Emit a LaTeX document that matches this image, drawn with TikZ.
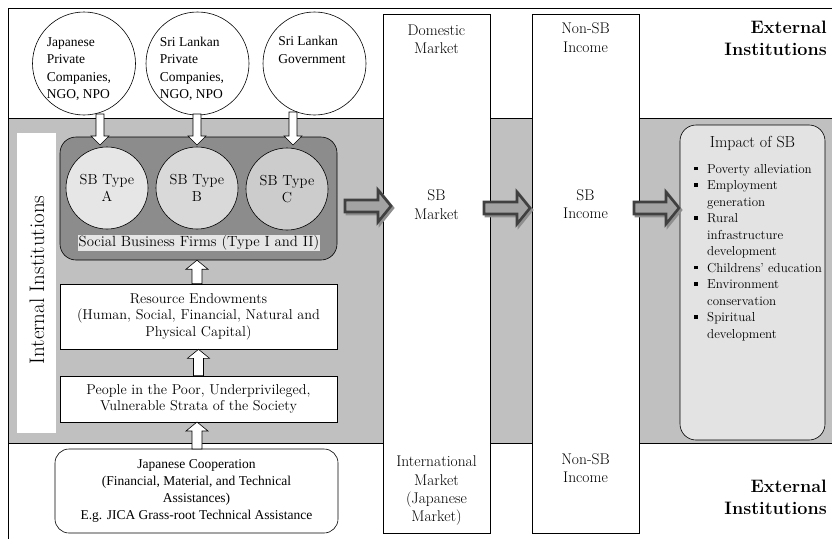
\documentclass[tikz,border=0pt]{standalone}
\usepackage{fontspec}
\newfontfamily\tnr{Liberation Serif}
\usetikzlibrary{calc}
\definecolor{band}{HTML}{C0C0C0}
\definecolor{firmfill}{HTML}{8C8C8C}
\definecolor{cA}{HTML}{E6E6E6}
\definecolor{cB}{HTML}{D9D9D9}
\definecolor{cC}{HTML}{CCCCCC}
\definecolor{impfill}{HTML}{E3E3E3}
\definecolor{arrfill}{HTML}{A3A3A3}
\definecolor{arrline}{HTML}{404040}
\definecolor{shadowc}{HTML}{8E8E8E}
\newcommand\fsz[2]{\fontsize{#1}{#2}\selectfont}
\newcommand\bul{\makebox[13pt][l]{\rule[3pt]{3.6pt}{3.6pt}}}
\newcommand\ind{\hspace*{13pt}}
\tikzset{
  topcirc/.style={circle,draw,line width=0.6pt,minimum size=103pt,inner sep=0pt,fill=white},
  sbcirc/.style={circle,draw,line width=0.6pt,minimum size=82pt,inner sep=0pt,font=\fsz{14.5}{17},align=center},
  colbox/.style={draw,line width=0.6pt,fill=white,minimum width=107pt,minimum height=519pt,inner sep=0pt},
  whitebox/.style={draw,line width=0.6pt,fill=white,minimum width=277pt,inner sep=0pt,font=\fsz{14.3}{16.5},align=center},
  coltext/.style={font=\fsz{15.5}{18.3},align=center,inner sep=0pt},
  exttext/.style={font=\bfseries\fsz{18}{22},align=right,anchor=north east,inner sep=0pt},
  fatstyle/.style={fill=arrfill,draw=arrline,line width=2.6pt,line join=miter},
  fatshadow/.style={fill=shadowc,draw=shadowc,line width=2.6pt},
  blockarr/.style={fill=white,draw=black,line width=0.6pt},
}
% horizontal fat arrow from #1 to tip #2
\newcommand\fatarr[2]{%
  \draw[fatshadow] ($(#1)+(2,2)+(0,-6)$) -- ($(#2)+(2,2)+(-13,-6)$) -- ($(#2)+(2,2)+(-13,-16)$) -- ($(#2)+(2,2)$) -- ($(#2)+(2,2)+(-13,16)$) -- ($(#2)+(2,2)+(-13,6)$) -- ($(#1)+(2,2)+(0,6)$) -- cycle;
  \draw[fatstyle] ($(#1)+(0,-6)$) -- ($(#2)+(-13,-6)$) -- ($(#2)+(-13,-16)$) -- (#2) -- ($(#2)+(-13,16)$) -- ($(#2)+(-13,6)$) -- ($(#1)+(0,6)$) -- cycle;}
% upward block arrow: start #1 (below), tip #2 (above)
\newcommand\uparr[2]{%
  \draw[blockarr] ($(#1)+(-5,0)$) -- ($(#2)+(-5,9)$) -- ($(#2)+(-11,9)$) -- (#2) -- ($(#2)+(11,9)$) -- ($(#2)+(5,9)$) -- ($(#1)+(5,0)$) -- cycle;}
% downward block arrow: start #1 (above), tip #2 (below)
\newcommand\downarr[2]{%
  \draw[blockarr] ($(#1)+(-4,0)$) -- ($(#2)+(-4,-9)$) -- ($(#2)+(-9,-9)$) -- (#2) -- ($(#2)+(9,-9)$) -- ($(#2)+(4,-9)$) -- ($(#1)+(4,0)$) -- cycle;}
\begin{document}
\begin{tikzpicture}[x=1pt,y=-1pt]
\useasboundingbox (0,0) rectangle (832,538);
% frame and band
\draw[line width=0.6pt,fill=white] (8,8) rectangle (845,550);
\draw[line width=0.6pt,fill=band] (8,118) rectangle (845,443);
% columns
\node[colbox] (dm) at (436.5,273.5) {};
\node[colbox] (nsb) at (585.5,273.5) {};
% column texts
\node[coltext] (dmt) at (436.5,39) {Domestic\\Market};
\node[coltext] (sbm) at (436.5,204.5) {SB\\Market};
\node[coltext] (imt) at (436.5,491) {International\\Market\\(Japanese\\Market)};
\node[coltext] (nsbt) at (585.5,37.5) {Non-SB\\Income};
\node[coltext] (sbi) at (585.5,204) {SB\\Income};
\node[coltext] (nsbb) at (585.5,468) {Non-SB\\Income};
% external institutions
\node[exttext] (ext1) at (827,21) {External\\Institutions};
\node[exttext] (ext2) at (827,480) {External\\Institutions};
% internal institutions label
\fill[white] (17,133) rectangle (56,433);
\node[rotate=90,font=\fsz{21}{24},inner sep=0pt] (intl) at (37,280) {Internal Institutions};
% top circles
\node[topcirc] (c1) at (84,63.5) {};
\node[font=\tnr\fsz{13.5}{17.5},align=left,inner sep=0pt] (c1t) at (79,69) {Japanese\\Private\\Companies,\\NGO, NPO};
\node[topcirc] (c2) at (197.5,63.5) {};
\node[font=\tnr\fsz{13.5}{17.5},align=left,inner sep=0pt] (c2t) at (192,69) {Sri Lankan\\Private\\Companies,\\NGO, NPO};
\node[topcirc] (c3) at (314.5,63.5) {};
\node[font=\tnr\fsz{13.5}{17.5},align=left,inner sep=0pt] (c3t) at (312,50) {Sri Lankan\\Government};
% SB firms box
\draw[rounded corners=16pt,line width=0.6pt,fill=firmfill] (60,137) rectangle (337,260);
\node[minimum width=277pt,minimum height=123pt,inner sep=0pt] (sbf) at (198.5,198.5) {};
\node[sbcirc,fill=cA] (sa) at (107,188) {SB Type\\A};
\node[sbcirc,fill=cB] (sb) at (197,188) {SB Type\\B};
\node[sbcirc,fill=cC] (sc) at (287,189) {SB Type\\C};
\node[fill=cA,font=\fsz{14.8}{17},inner sep=1pt] (sbfl) at (199,243) {Social Business Firms (Type I and II)};
% down arrows from circles
\coordinate (d1s) at (100,114);
\coordinate (d1e) at (100,145);
\coordinate (d2s) at (197,114);
\coordinate (d2e) at (197,145);
\coordinate (d3s) at (293,112);
\coordinate (d3e) at (293,145);
\downarr{d1s}{d1e}
\downarr{d2s}{d2e}
\downarr{d3s}{d3e}
% resource and people boxes
\node[whitebox,minimum height=65pt] (res) at (198.5,316.5) {Resource Endowments\\(Human, Social, Financial, Natural and\\Physical Capital)};
\node[whitebox,minimum height=46pt] (ppl) at (198.5,399) {People in the Poor, Underprivileged,\\Vulnerable Strata of the Society};
% Japanese cooperation
\node[draw,line width=0.6pt,fill=white,rounded corners=14pt,minimum width=283pt,minimum height=84pt,inner sep=0pt,font=\tnr\fsz{13.5}{17},align=center] (jc) at (196.5,491) {Japanese Cooperation\\(Financial, Material, and Technical\\Assistances)\\E.g. JICA Grass-root Technical Assistance};
% up arrows
\uparr{res.north -| sb}{sbf.south -| sb}
\uparr{ppl.north}{res.south}
\coordinate (u3s) at (197,449);
\coordinate (u3e) at (197,422);
\uparr{u3s}{u3e}
% impact box
\node[draw,line width=0.6pt,fill=impfill,rounded corners=16pt,minimum width=145pt,minimum height=315pt,inner sep=0pt] (imp) at (752.5,282.5) {};
\node[font=\fsz{16}{16.5},inner sep=0pt] (impt) at (752.5,143) {Impact of SB};
\node[font=\fsz{13}{16.5},inner sep=0pt,anchor=north west,align=left] (impl) at (694,164) {%
\bul Poverty alleviation\\
\bul Employment\\
\ind generation\\
\bul Rural\\
\ind infrastructure\\
\ind development\\
\bul Childrens' education\\
\bul Environment\\
\ind conservation\\
\bul Spiritual\\
\ind development};
% fat arrows
\coordinate (f1s) at (345,206);
\coordinate (f1e) at (391,206);
\coordinate (f2s) at (484,208);
\coordinate (f2e) at (530,208);
\coordinate (f3s) at (634,208);
\coordinate (f3e) at (679,208);
\fatarr{f1s}{f1e}
\fatarr{f2s}{f2e}
\fatarr{f3s}{f3e}
\end{tikzpicture}
\end{document}
